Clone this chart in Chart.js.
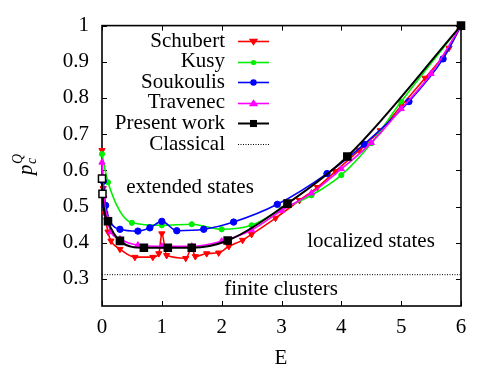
<!DOCTYPE html>
<html><head><meta charset="utf-8">
<script src="https://cdn.jsdelivr.net/npm/chart.js@4.4.0/dist/chart.umd.min.js"></script>
<style>html,body{margin:0;padding:0;background:#fff;overflow:hidden}</style>
</head><body>
<canvas id="c" width="498" height="374"></canvas>
<script>
// ---- data ----
const schubertE = [0, 0.02, 0.05, 0.1, 0.15, 0.3, 0.55, 0.85, 0.95, 1.0, 1.08, 1.4, 1.5, 1.56, 1.75, 1.95, 2.12, 2.35, 2.5, 2.9, 3.3, 3.6, 3.9, 4.3, 4.65, 5.0, 5.4, 5.8, 6.0];
const schubertP = [0.655, 0.55, 0.48, 0.43, 0.405, 0.382, 0.36, 0.36, 0.37, 0.425, 0.365, 0.357, 0.385, 0.362, 0.37, 0.372, 0.39, 0.407, 0.423, 0.468, 0.517, 0.553, 0.597, 0.656, 0.71, 0.778, 0.855, 0.938, 1.0];
const kusyE = [0, 0.1, 0.5, 1.0, 1.5, 2.0, 2.5, 3.0, 3.5, 4.0, 4.5, 5.0, 6.0];
const kusyP = [0.645, 0.567, 0.455, 0.448, 0.451, 0.437, 0.448, 0.492, 0.531, 0.587, 0.675, 0.79, 1.0];
const soukoulisE = [0.02, 0.06, 0.3, 0.6, 0.8, 1.0, 1.25, 1.7, 2.2, 2.93, 3.76, 4.38, 5.13, 5.7, 6.0];
const soukoulisP = [0.57, 0.503, 0.437, 0.432, 0.441, 0.459, 0.433, 0.437, 0.457, 0.506, 0.591, 0.672, 0.79, 0.908, 1.0];
const travenecE = [0, 0.03, 0.08, 0.15, 0.3, 0.6, 1.0, 1.5, 2.0, 2.5, 3.0, 3.5, 4.0, 4.5, 5.0, 5.5, 6.0];
const travenecP = [0.622, 0.53, 0.47, 0.43, 0.41, 0.393, 0.39, 0.39, 0.404, 0.435, 0.489, 0.537, 0.604, 0.676, 0.77, 0.867, 1.0];
const presentE = [0, 0.008, 0.1, 0.3, 0.7, 1.1, 1.5, 2.1, 3.1, 4.1, 6.0];
const presentP = [0.577, 0.535, 0.459, 0.405, 0.386, 0.386, 0.386, 0.406, 0.508, 0.638, 1.0];
const classicalE = [0, 6];
const classicalP = [0.3116, 0.3116];
const seriesNames = ['Schubert', 'Kusy', 'Soukoulis', 'Travenec', 'Present work', 'Classical'];
const xTickValues = [0, 1, 2, 3, 4, 5, 6];
const xTickLabels = ['0', '1', '2', '3', '4', '5', '6'];
const yTickValues = [0.3, 0.4, 0.5, 0.6, 0.7, 0.8, 0.9, 1.0];
const yTickLabels = ['0.3', '0.4', '0.5', '0.6', '0.7', '0.8', '0.9', '1'];
const xTitle = 'E';
const regionLabels = ['extended states', 'localized states', 'finite clusters'];

const FONT = '"Liberation Serif", "Times New Roman", serif';
const pts = (xs, ys) => xs.map((x, i) => ({x: x, y: ys[i]}));

const styles = [
  {color: '#ff0000', shape: 'triangle', rot: 180, r: 3.6, bw: 1.6},
  {color: '#00ee00', shape: 'circle', rot: 0, r: 2.6, bw: 1.6},
  {color: '#0000ff', shape: 'circle', rot: 0, r: 3.2, bw: 1.6},
  {color: '#ff00ff', shape: 'triangle', rot: 0, r: 3.6, bw: 1.6},
  {color: '#000000', shape: 'rect', rot: 0, r: 5, bw: 2},
  {color: '#000000', shape: 'none', rot: 0, r: 0, bw: 1, dash: [1, 1.5]}
];
const dataList = [pts(schubertE, schubertP), pts(kusyE, kusyP), pts(soukoulisE, soukoulisP),
                  pts(travenecE, travenecP), pts(presentE, presentP), pts(classicalE, classicalP)];

const datasets = dataList.map((d, i) => {
  const s = styles[i];
  const ds = {
    label: seriesNames[i], data: d, borderColor: s.color, backgroundColor: s.color,
    borderWidth: s.bw, pointStyle: s.shape === 'none' ? false : s.shape, pointRotation: s.rot,
    pointRadius: s.r, pointHoverRadius: s.r, pointBorderWidth: 1,
    pointBorderColor: s.color, pointBackgroundColor: s.color,
    cubicInterpolationMode: 'monotone', clip: false, order: 5 - i
  };
  if (s.dash) { ds.borderDash = s.dash; ds.cubicInterpolationMode = 'default'; ds.tension = 0; }
  if (i === 4) { ds.pointBackgroundColor = d.map((p, k) => k < 2 ? '#ffffff' : '#000000'); ds.pointBorderWidth = 1.5; }
  return ds;
});

function marker(ctx, shape, x, y, r, rot, color) {
  ctx.save();
  ctx.fillStyle = color; ctx.strokeStyle = color;
  ctx.translate(x, y); ctx.rotate(rot * Math.PI / 180);
  ctx.beginPath();
  if (shape === 'circle') { ctx.arc(0, 0, r, 0, Math.PI * 2); }
  else if (shape === 'triangle') {
    ctx.moveTo(0, -r * 1.5 * 0.8);
    ctx.lineTo(r * 1.3, r * 0.75);
    ctx.lineTo(-r * 1.3, r * 0.75);
    ctx.closePath();
  } else if (shape === 'rect') { const s = r * Math.SQRT1_2; ctx.rect(-s, -s, 2 * s, 2 * s); }
  ctx.fill();
  ctx.restore();
}

const framePlugin = {
  id: 'frame',
  beforeDatasetsDraw(chart) {
    const {ctx, chartArea: a, scales: {x, y}} = chart;
    ctx.save();
    ctx.strokeStyle = '#000'; ctx.lineWidth = 1;
    const tl = 5;
    ctx.beginPath();
    xTickValues.forEach(v => {
      const px = Math.round(x.getPixelForValue(v)) + 0.5;
      ctx.moveTo(px, a.bottom); ctx.lineTo(px, a.bottom - tl);
      ctx.moveTo(px, a.top); ctx.lineTo(px, a.top + tl);
    });
    yTickValues.forEach(v => {
      const py = Math.round(y.getPixelForValue(v)) + 0.5;
      ctx.moveTo(a.left, py); ctx.lineTo(a.left + tl, py);
      ctx.moveTo(a.right, py); ctx.lineTo(a.right - tl, py);
    });
    ctx.stroke();
    ctx.lineWidth = 1.6;
    ctx.strokeRect(a.left, a.top, a.right - a.left, a.bottom - a.top);
    ctx.restore();
  },
  afterDraw(chart) {
    const {ctx, chartArea: a, scales: {x, y}} = chart;
    ctx.save();
    ctx.fillStyle = '#000';
    ctx.font = '21px ' + FONT;
    ctx.textBaseline = 'middle';
    // region labels
    ctx.textAlign = 'center';
    ctx.fillText(regionLabels[0], 190, 187);
    ctx.fillText(regionLabels[1], 371, 241);
    ctx.fillText(regionLabels[2], 281, 289);
    // x title
    ctx.fillText(xTitle, 281, 358);
    // legend
    const y0 = 41, dy = 20.6;
    seriesNames.forEach((name, i) => {
      const yy = y0 + i * dy;
      const s = styles[i];
      ctx.textAlign = 'right';
      ctx.fillStyle = '#000';
      ctx.fillText(name, 225, yy);
      ctx.save();
      ctx.strokeStyle = s.color; ctx.lineWidth = s.bw;
      if (s.dash) ctx.setLineDash(s.dash);
      ctx.beginPath(); ctx.moveTo(238, Math.round(yy) + 0.5); ctx.lineTo(269, Math.round(yy) + 0.5); ctx.stroke();
      ctx.restore();
      if (s.shape !== 'none') marker(ctx, s.shape, 253.5, Math.round(yy) + 0.5, s.r, s.rot, s.color);
    });
    // y title p_c^Q (rotated)
    ctx.save();
    ctx.translate(30, 162);
    ctx.rotate(-Math.PI / 2);
    ctx.textAlign = 'left';
    ctx.textBaseline = 'alphabetic';
    ctx.font = 'italic 21px ' + FONT;
    ctx.fillText('p', -13, 2);
    ctx.font = 'italic 14px ' + FONT;
    ctx.fillText('c', -2, 6);
    ctx.fillText('Q', -2, -8);
    ctx.restore();
    ctx.restore();
  }
};

new Chart(document.getElementById('c'), {
  type: 'line',
  data: {datasets: datasets},
  options: {
    responsive: false, animation: false, devicePixelRatio: 1,
    layout: {padding: {top: 24, right: 37, left: 0, bottom: 0}},
    plugins: {legend: {display: false}, tooltip: {enabled: false}},
    scales: {
      x: {
        type: 'linear', min: 0, max: 6,
        afterBuildTicks: s => { s.ticks = xTickValues.map(v => ({value: v})); },
        afterFit: s => { s.height = 68; },
        grid: {display: false, drawTicks: false, tickLength: 0},
        border: {display: false},
        ticks: {padding: 9, color: '#000', font: {family: FONT, size: 21}, maxRotation: 0,
                callback: (v, i) => xTickLabels[i]}
      },
      y: {
        type: 'linear', min: 0.225, max: 1,
        afterBuildTicks: s => { s.ticks = yTickValues.map(v => ({value: v})); },
        afterFit: s => { s.width = 102; },
        grid: {display: false, drawTicks: false, tickLength: 0},
        border: {display: false},
        ticks: {padding: 13, color: '#000', font: {family: FONT, size: 21},
                callback: (v, i) => yTickLabels[i]}
      }
    }
  },
  plugins: [framePlugin]
});
</script>
</body></html>
